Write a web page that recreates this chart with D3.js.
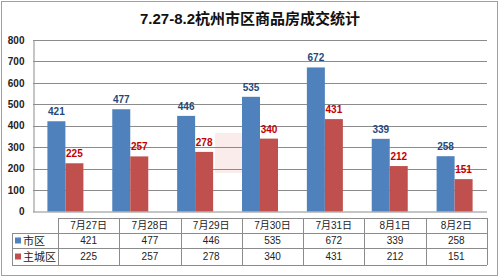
<!DOCTYPE html>
<html><head><meta charset="utf-8">
<script src="https://cdn.jsdelivr.net/npm/d3@7"></script>
<style>body{margin:0;background:#fff}svg{display:block;font-family:"Liberation Sans","Noto Sans CJK SC",sans-serif}</style>
</head><body><svg id="c" width="500" height="278"></svg>
<script>
const title = "7.27-8.2杭州市区商品房成交统计";
const categories = ["7月27日","7月28日","7月29日","7月30日","7月31日","8月1日","8月2日"];
const seriesNames = ["市区","主城区"];
const cityValues = [421,477,446,535,672,339,258];
const mainValues = [225,257,278,340,431,212,151];
const yTicks = [0,100,200,300,400,500,600,700,800];

const colors = ["#4F81BD","#C0504D"];
const labelColors = ["#1F497D","#C00000"];
const series = [cityValues, mainValues];

const svg = d3.select("#c");
svg.append("rect").attr("x",1.5).attr("y",1.5).attr("width",496).attr("height",274)
  .attr("fill","#fff").attr("stroke","#a0a0a0");

svg.append("text").attr("x",250).attr("y",24).attr("text-anchor","middle")
  .attr("font-size",15).attr("font-weight","bold").attr("fill","#111").text(title);

const L=33, R=487, T=40, B=211.5;
const y = d3.scaleLinear().domain([0,800]).range([B,T]);
const x = d3.scaleBand().domain(categories).range([L,R]).paddingInner(0.445).paddingOuter(0.222);
const xs = d3.scaleBand().domain([0,1]).range([0,x.bandwidth()]);

// faint watermark block
svg.append("rect").attr("x",215).attr("y",133).attr("width",44).attr("height",40)
  .attr("fill","#f4c8c8").attr("opacity",0.35);

// grid
svg.append("g").selectAll("line").data(yTicks.slice(1)).join("line")
  .attr("x1",L).attr("x2",R).attr("y1",d=>Math.round(y(d))+0.5).attr("y2",d=>Math.round(y(d))+0.5)
  .attr("stroke","#8c8c8c").attr("stroke-width",1);

// y axis
const ya = svg.append("g").attr("transform",`translate(${L+0.5},0)`)
  .call(d3.axisLeft(y).tickValues(yTicks).tickSize(0).tickPadding(9));
ya.select(".domain").attr("stroke","#8c8c8c");
ya.selectAll("text").attr("font-size",10).attr("font-weight","bold").attr("fill","#222")
  .attr("font-family","Liberation Sans");

// bars
series.forEach((vals,si)=>{
  const g = svg.append("g");
  g.selectAll("rect").data(vals).join("rect")
    .attr("x",(d,i)=>x(categories[i])+xs(si)).attr("width",xs.bandwidth())
    .attr("y",d=>y(d)).attr("height",d=>B-y(d)).attr("fill",colors[si]);
  g.selectAll("text").data(vals).join("text")
    .attr("x",(d,i)=>x(categories[i])+xs(si)+xs.bandwidth()/2).attr("y",d=>y(d)-6)
    .attr("text-anchor","middle").attr("font-size",10).attr("font-weight","bold")
    .attr("fill",labelColors[si]).text(d=>d);
});
svg.append("line").attr("x1",L).attr("x2",R).attr("y1",B+0.5).attr("y2",B+0.5).attr("stroke","#8c8c8c");

// data table
const tL=58, tR=487, lL=12;
const rows=[218,233,248,265];
const tx = d3.scaleBand().domain(categories).range([tL,tR]);
const tg = svg.append("g").attr("stroke","#8c8c8c").attr("stroke-width",1);
tg.append("line").attr("x1",tL).attr("x2",tR).attr("y1",rows[0]+0.5).attr("y2",rows[0]+0.5);
rows.slice(1).forEach(r=>tg.append("line").attr("x1",lL).attr("x2",tR).attr("y1",r+0.5).attr("y2",r+0.5));
tg.append("line").attr("x1",lL+0.5).attr("x2",lL+0.5).attr("y1",rows[1]).attr("y2",rows[3]);
categories.forEach(c=>{const xx=Math.round(tx(c))+0.5;
  tg.append("line").attr("x1",xx).attr("x2",xx).attr("y1",rows[0]).attr("y2",rows[3]);});
tg.append("line").attr("x1",tR+0.5).attr("x2",tR+0.5).attr("y1",rows[0]).attr("y2",rows[3]);

svg.append("g").selectAll("text").data(categories).join("text")
  .attr("x",c=>tx(c)+tx.bandwidth()/2).attr("y",(rows[0]+rows[1])/2+3.5)
  .attr("text-anchor","middle").attr("font-size",10).attr("fill","#222").text(d=>d);
series.forEach((vals,si)=>{
  const cy=(rows[si+1]+rows[si+2])/2;
  svg.append("g").selectAll("text").data(vals).join("text")
    .attr("x",(d,i)=>tx(categories[i])+tx.bandwidth()/2).attr("y",cy+3.5)
    .attr("text-anchor","middle").attr("font-size",10).attr("fill","#222").text(d=>d);
  svg.append("rect").attr("x",15).attr("y",cy-3).attr("width",6).attr("height",6).attr("fill",colors[si]);
  svg.append("text").attr("x",23).attr("y",cy+4).attr("font-size",11).attr("fill","#222")
    .attr("font-family","Noto Sans CJK SC").text(seriesNames[si]);
});
</script></body></html>
